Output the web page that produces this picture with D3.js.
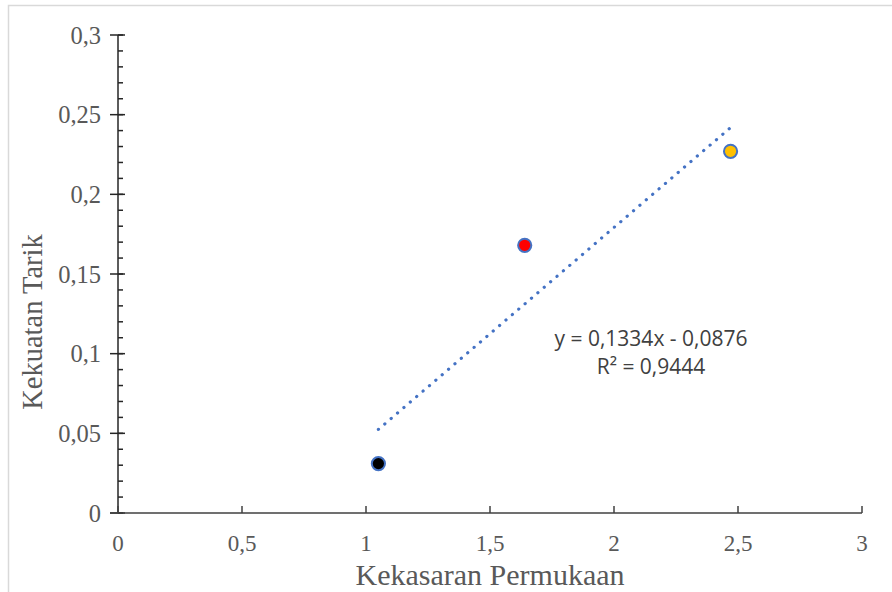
<!DOCTYPE html>
<html>
<head>
<meta charset="utf-8">
<script src="https://cdn.jsdelivr.net/npm/d3@7"></script>
<style>
  body { margin: 0; background: #fff; }
  svg { display: block; }
</style>
</head>
<body>
<script>
// data
var roughness = [1.05, 1.64, 2.47];
var strength = [0.031, 0.168, 0.227];
var pointColors = ["#000000", "#FF0000", "#FFC000"];
var xTicks = [0, 0.5, 1, 1.5, 2, 2.5, 3];
var yTicks = [0, 0.05, 0.1, 0.15, 0.2, 0.25, 0.3];
var slope = 0.1334, intercept = -0.0876;
var eqLines = ["y = 0,1334x - 0,0876", "R² = 0,9444"];

var width = 892, height = 592;
var serif = "'Liberation Serif', 'Times New Roman', serif";
var fmt = function(d) { return String(d).replace(".", ","); };

var svg = d3.select("body").append("svg")
    .attr("width", width)
    .attr("height", height);

// chart border
svg.append("rect")
    .attr("x", 8.5).attr("y", 5.5)
    .attr("width", width + 20).attr("height", height + 20)
    .attr("fill", "none")
    .attr("stroke", "#d9d9d9")
    .attr("stroke-width", 1.5);

var x = d3.scaleLinear().domain([0, 3]).range([118, 862]);
var y = d3.scaleLinear().domain([0, 0.3]).range([513, 35]);

// y axis: minor ticks inside, major ticks cross
var gy = svg.append("g");
gy.append("line")
    .attr("x1", x(0)).attr("x2", x(0))
    .attr("y1", y(0)).attr("y2", y(0.3))
    .attr("stroke", "#262626").attr("stroke-width", 1.5);
gy.selectAll(".minor")
    .data(d3.range(0, 31).map(function(i) { return i / 100; }))
    .enter().append("line")
    .attr("x1", x(0)).attr("x2", x(0) + 5)
    .attr("y1", function(d) { return y(d); })
    .attr("y2", function(d) { return y(d); })
    .attr("stroke", "#262626").attr("stroke-width", 1.5);
gy.selectAll(".major")
    .data(yTicks)
    .enter().append("line")
    .attr("x1", x(0) - 8).attr("x2", x(0) + 7)
    .attr("y1", function(d) { return y(d); })
    .attr("y2", function(d) { return y(d); })
    .attr("stroke", "#262626").attr("stroke-width", 1.5);
gy.selectAll("text")
    .data(yTicks)
    .enter().append("text")
    .attr("x", x(0) - 17)
    .attr("y", function(d) { return y(d); })
    .attr("dy", "0.35em")
    .attr("text-anchor", "end")
    .attr("font-family", serif)
    .attr("font-size", 24.5)
    .attr("fill", "#595959")
    .text(fmt);

// x axis: ticks point up
var gx = svg.append("g");
gx.append("line")
    .attr("x1", x(0) - 8).attr("x2", x(3))
    .attr("y1", y(0)).attr("y2", y(0))
    .attr("stroke", "#404040").attr("stroke-width", 1.5);
gx.selectAll(".tick")
    .data(xTicks)
    .enter().append("line")
    .attr("x1", function(d) { return x(d); })
    .attr("x2", function(d) { return x(d); })
    .attr("y1", y(0)).attr("y2", y(0) - 7)
    .attr("stroke", "#404040").attr("stroke-width", 1.5);
gx.selectAll("text")
    .data(xTicks)
    .enter().append("text")
    .attr("x", function(d) { return x(d); })
    .attr("y", y(0) + 38)
    .attr("text-anchor", "middle")
    .attr("font-family", serif)
    .attr("font-size", 23)
    .attr("fill", "#595959")
    .text(fmt);

// axis titles
svg.append("text")
    .attr("x", 490).attr("y", 585)
    .attr("text-anchor", "middle")
    .attr("font-family", serif)
    .attr("font-size", 30)
    .attr("fill", "#595959")
    .text("Kekasaran Permukaan");
svg.append("text")
    .attr("transform", "translate(42,322) rotate(-90)")
    .attr("text-anchor", "middle")
    .attr("font-family", serif)
    .attr("font-size", 28.5)
    .attr("fill", "#595959")
    .text("Kekuatan Tarik");

// trend line (dotted)
var x0 = d3.min(roughness), x1 = d3.max(roughness);
svg.append("line")
    .attr("x1", x(x0)).attr("y1", y(slope * x0 + intercept))
    .attr("x2", x(x1)).attr("y2", y(slope * x1 + intercept))
    .attr("stroke", "#4472C4")
    .attr("stroke-width", 3.2)
    .attr("stroke-linecap", "round")
    .attr("stroke-dasharray", "0.1 8.3");

// points
svg.selectAll(".pt")
    .data(roughness)
    .enter().append("circle")
    .attr("cx", function(d) { return x(d); })
    .attr("cy", function(d, i) { return y(strength[i]); })
    .attr("r", 6.6)
    .attr("fill", function(d, i) { return pointColors[i]; })
    .attr("stroke", "#4472C4")
    .attr("stroke-width", 2);

// equation label
svg.selectAll(".eq")
    .data(eqLines)
    .enter().append("text")
    .attr("x", 651)
    .attr("y", function(d, i) { return 346 + i * 28; })
    .attr("text-anchor", "middle")
    .attr("font-family", "'Open Sans', sans-serif")
    .attr("font-size", 21)
    .attr("fill", "#404040")
    .text(function(d) { return d; });
</script>
</body>
</html>
